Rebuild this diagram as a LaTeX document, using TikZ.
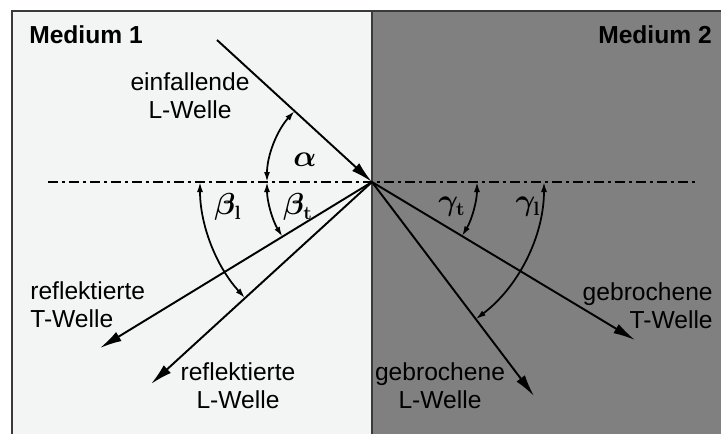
\documentclass[tikz,border=0pt]{standalone}
\usepackage[no-math]{fontspec}
\setmainfont{Liberation Sans}
\usepackage{xcolor}
\usepackage{tikz}
\usetikzlibrary{arrows.meta,calc}
\definecolor{mediumone}{HTML}{F3F4F4}
\definecolor{mediumtwo}{HTML}{808080}
\definecolor{framegray}{HTML}{3A3A3A}

\begin{document}
\begin{tikzpicture}[x=0.02cm, y=0.02cm,
    ray/.style={-{Latex[length=0.44cm, width=0.21cm]}, line width=1.1pt},
    anglearc/.style={{Latex[length=0.2cm, width=0.12cm]}-{Latex[length=0.2cm, width=0.12cm]}, line width=1pt},
    normalline/.style={line width=1.1pt, dash pattern=on 0.2cm off 0.08cm on 0.06cm off 0.08cm},
    frameline/.style={draw=framegray, line width=1pt},
    wave/.style={font=\fontsize{14}{16}\selectfont, align=center, inner sep=0pt},
    mediumlabel/.style={font=\fontsize{14}{16}\selectfont\bfseries, inner sep=0pt},
    anglelabel/.style={font=\fontsize{16}{18}\selectfont\boldmath, inner sep=0pt}
]
\useasboundingbox (0,0) rectangle (721,434);

% Media
\fill[white] (0,0) rectangle (721,434);
\fill[mediumone] (12,0) rectangle (372,423);
\fill[mediumtwo] (372,0) rectangle (721,423);
\draw[frameline] (12,0) -- (12,423) -- (721,423);
\draw[frameline] (372,0) -- (372,423);

\node[mediumlabel] (m1) at (86,399) {Medium 1};
\node[mediumlabel] (m2) at (655,399) {Medium 2};

% Point of incidence and ray ends
\coordinate (O) at (372,252);
\coordinate (inc) at (217,394);
\coordinate (refT) at (100,86);
\coordinate (refL) at (151,50);
\coordinate (braT) at (635,94);
\coordinate (braL) at (534,38);
\coordinate (nl) at (48,252);
\coordinate (nr) at (695,252);

% Dash-dot line
\draw[normalline] (nl) -- (nr);

% Rays
\draw[ray] (inc) -- (O);
\draw[ray] (O) -- (refT);
\draw[ray] (O) -- (refL);
\draw[ray] (O) -- (braT);
\draw[ray] (O) -- (braL);

% Angle arcs
\draw[anglearc] ($(O)+(180:105)$) arc[start angle=180, end angle=137.5, radius=2.1cm];
\draw[anglearc] ($(O)+(180:105)$) arc[start angle=180, end angle=211.4, radius=2.1cm];
\draw[anglearc] ($(O)+(180:172)$) arc[start angle=180, end angle=222.4, radius=3.44cm];
\draw[anglearc] ($(O)+(0:105)$) arc[start angle=0, end angle=-31.0, radius=2.1cm];
\draw[anglearc] ($(O)+(0:172)$) arc[start angle=0, end angle=-52.9, radius=3.44cm];

% Angle labels
\node[anglelabel] (alpha) at (305,274) {$\alpha$};
\node[anglelabel] (betal) at (228,227) {$\beta_{\mathbf{l}}$};
\node[anglelabel] (betat) at (298,227) {$\beta_{\mathbf{t}}$};
\node[anglelabel] (gammat) at (452,227) {$\gamma_{\mathbf{t}}$};
\node[anglelabel] (gammal) at (528,227) {$\gamma_{\mathbf{l}}$};

% Wave labels
\node[wave] (incl) at (190,338) {einfallende\\L-Welle};
\node[wave, align=left, anchor=west] (refTl) at (30,129) {reflektierte\\T-Welle};
\node[wave] (refLl) at (238,48) {reflektierte\\L-Welle};
\node[wave] (braLl) at (440,48) {gebrochene\\L-Welle};
\node[wave, align=right, anchor=east] (braTl) at (713,128) {gebrochene\\T-Welle};

\end{tikzpicture}
\end{document}
